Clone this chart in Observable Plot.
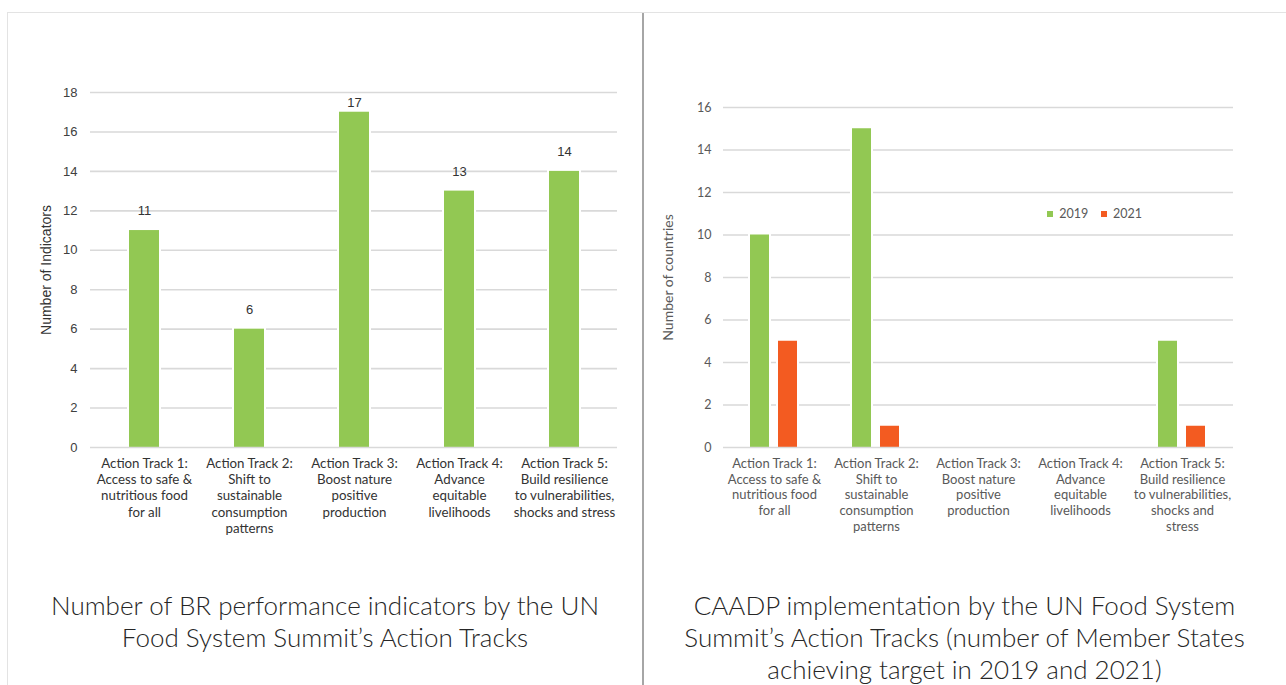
<!DOCTYPE html>
<html><head><meta charset="utf-8">
<script src="https://cdn.jsdelivr.net/npm/d3@7"></script>
<script src="https://cdn.jsdelivr.net/npm/@observablehq/plot@0.6"></script>
<style>
html,body{margin:0;padding:0;background:#fff}
body{width:1286px;height:685px;overflow:hidden;position:relative;font-family:Lato,"Open Sans",sans-serif}
#frame{position:absolute;left:7px;top:12px;width:1300px;height:700px;border:1px solid #e3e3e3;box-sizing:border-box}
#divider{position:absolute;left:642px;top:13px;width:2px;height:672px;background:#a6a6a6}
#c1{position:absolute;left:0;top:0}
#c2{position:absolute;left:643px;top:0}
.title{position:absolute;top:589px;text-align:center;font-size:26px;line-height:32px;font-weight:300;color:#262626}
#t1{left:7px;width:636px}
#t2{left:643px;width:643px}
#legend{position:absolute;left:1047px;top:197px}
</style></head><body>
<div id="frame"></div>
<div id="c1"></div>
<div id="c2"></div>
<div id="divider"></div>
<div id="legend"></div>
<div id="t1" class="title">Number of BR performance indicators by the UN<br>Food System Summit’s Action Tracks</div>
<div id="t2" class="title">CAADP implementation by the UN Food System<br>Summit’s Action Tracks (number of Member States<br>achieving target in 2019 and 2021)</div>
<script>
// ---- data ----
const tracks = ["Action Track 1", "Action Track 2", "Action Track 3", "Action Track 4", "Action Track 5"];
const labels1 = [
  "Action Track 1:\nAccess to safe &\nnutritious food\nfor all",
  "Action Track 2:\nShift to\nsustainable\nconsumption\npatterns",
  "Action Track 3:\nBoost nature\npositive\nproduction",
  "Action Track 4:\nAdvance\nequitable\nlivelihoods",
  "Action Track 5:\nBuild resilience\nto vulnerabilities,\nshocks and stress"
];
const labels2 = [
  "Action Track 1:\nAccess to safe &\nnutritious food\nfor all",
  "Action Track 2:\nShift to\nsustainable\nconsumption\npatterns",
  "Action Track 3:\nBoost nature\npositive\nproduction",
  "Action Track 4:\nAdvance\nequitable\nlivelihoods",
  "Action Track 5:\nBuild resilience\nto vulnerabilities,\nshocks and\nstress"
];
const indicators = [11, 6, 17, 13, 14];
const years = ["2019", "2021"];
const countries2019 = [10, 15, 0, 0, 5];
const countries2021 = [5, 1, 0, 0, 1];
const yTicks1 = [0, 2, 4, 6, 8, 10, 12, 14, 16, 18];
const yTicks2 = [0, 2, 4, 6, 8, 10, 12, 14, 16];
const yLabel1 = "Number of Indicators";
const yLabel2 = "Number of countries";
const green = "#92C853";
const orange = "#F35B21";
const gridColor = "#d9d9d9";

// ---- chart 1 ----
const d1 = tracks.map((t, i) => ({track: t, value: indicators[i]}));
const chart1 = Plot.plot({
  width: 643, height: 545,
  marginLeft: 90, marginRight: 26, marginTop: 92, marginBottom: 98,
  style: {fontFamily: "Lato, sans-serif", fontSize: "13px", color: "#333", background: "transparent"},
  x: {domain: tracks, paddingInner: 0.715, paddingOuter: 0.3575, axis: null},
  y: {domain: [0, 18], axis: null},
  marks: [
    Plot.gridY(yTicks1.filter(d => d > 0), {stroke: gridColor, strokeOpacity: 1, strokeWidth: 1.6}),
    Plot.barY(d1, {x: "track", y: "value", fill: green, stroke: "white", strokeWidth: 4, paintOrder: "stroke"}),
    Plot.ruleY([0], {stroke: gridColor, strokeWidth: 1.6}),
    Plot.text(d1, {x: "track", y: d => Math.min(d.value + 1, 17.5), text: "value", fill: "#333", fontSize: 13, fontFamily: "Liberation Sans, Arial, sans-serif"}),
    Plot.axisY(yTicks1, {tickSize: 0, tickPadding: 13, fill: "#404040", fontSize: 13, fontFamily: "Liberation Sans, Arial, sans-serif", label: null}),
    Plot.text([yLabel1], {frameAnchor: "left", textAnchor: "middle", rotate: -90, dx: -44, fill: "#333", fontSize: 14, fontFamily: "Liberation Sans, Arial, sans-serif"}),
    Plot.axisX({tickSize: 0, tickPadding: 9, fill: "#333", fontSize: 13.3, lineHeight: 1.22,
      tickFormat: t => labels1[tracks.indexOf(t)], label: null})
  ]
});
document.getElementById("c1").append(chart1);

// ---- chart 2 ----
const d2 = tracks.flatMap((t, i) => [
  {track: t, year: years[0], value: countries2019[i]},
  {track: t, year: years[1], value: countries2021[i]}
]);
const chart2 = Plot.plot({
  width: 643, height: 545,
  marginLeft: 79, marginRight: 53, marginTop: 107, marginBottom: 98,
  style: {fontFamily: "Lato, sans-serif", fontSize: "13px", color: "#595959", background: "transparent"},
  fx: {domain: tracks, padding: 0, axis: null},
  x: {domain: years, paddingInner: 0.31, paddingOuter: 0.917, axis: null},
  y: {domain: [0, 16], axis: null},
  color: {domain: years, range: [green, orange]},
  marks: [
    Plot.gridY(yTicks2.filter(d => d > 0), {stroke: gridColor, strokeOpacity: 1, strokeWidth: 1.6}),
    Plot.barY(d2, {fx: "track", x: "year", y: "value", fill: "year", stroke: "white", strokeWidth: 4, paintOrder: "stroke"}),
    Plot.ruleY([0], {stroke: gridColor, strokeWidth: 1.6}),
    Plot.axisY(yTicks2, {facetAnchor: "left", tickSize: 0, tickPadding: 12, fill: "#595959", fontSize: 12.5, label: null}),
    Plot.text([yLabel2], {facetAnchor: "left", frameAnchor: "left", textAnchor: "middle", rotate: -90, dx: -55, fill: "#595959", fontSize: 14}),
    Plot.axisFx({anchor: "bottom", tickSize: 0, tickPadding: 9, fill: "#595959", fontSize: 13, lineHeight: 1.22,
      tickFormat: t => labels2[tracks.indexOf(t)], label: null})
  ]
});
document.getElementById("c2").append(chart2);

// ---- legend ----
const leg = Plot.legend({
  color: {domain: years, range: [green, orange]},
  legend: "swatches", swatchSize: 6,
  style: {fontFamily: "Lato, sans-serif", fontSize: "12.5px", color: "#595959"}
});
document.getElementById("legend").append(leg);
</script>
</body></html>
